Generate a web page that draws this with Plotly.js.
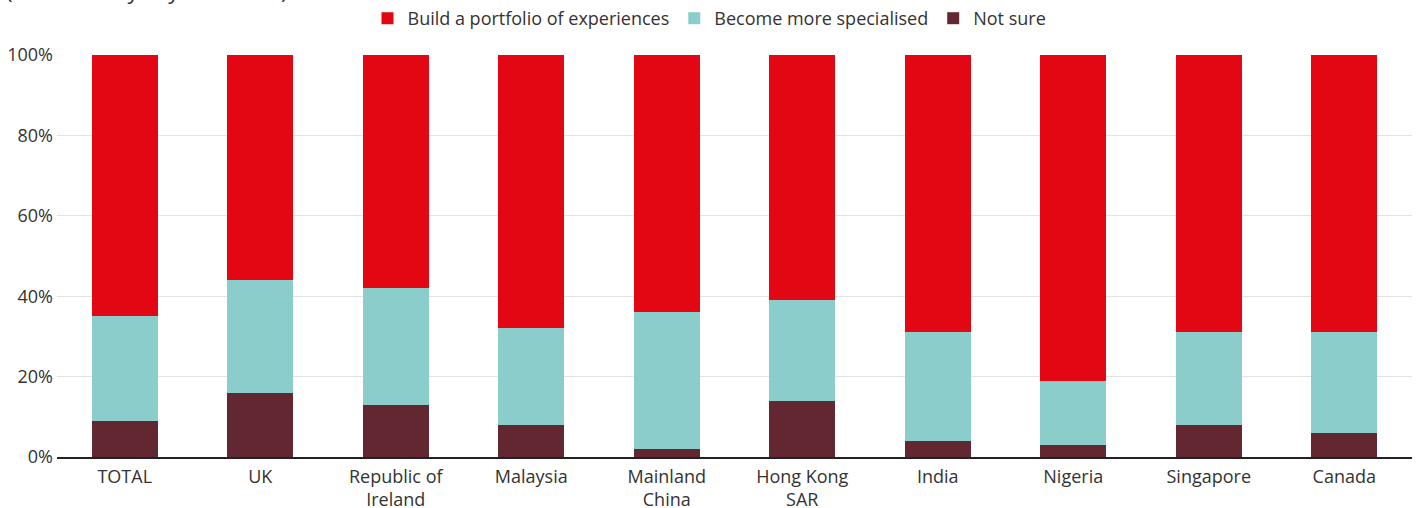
<!DOCTYPE html>
<html>
<head>
<meta charset="utf-8">
<script src="https://cdn.plot.ly/plotly-3.0.1.min.js"></script>
<style>html,body{margin:0;padding:0;background:#fff;}#chart{width:1419px;height:508px;}</style>
</head>
<body>
<div id="chart"></div>
<script>
const categories = ["TOTAL", "UK", "Republic of<br>Ireland", "Malaysia", "Mainland<br>China", "Hong Kong<br>SAR", "India", "Nigeria", "Singapore", "Canada"];
const notSure = [9, 16, 13, 8, 2, 14, 4, 3, 8, 6];
const specialised = [26, 28, 29, 24, 34, 25, 27, 16, 23, 25];
const portfolio = [65, 56, 58, 68, 64, 61, 69, 81, 69, 69];
const tickVals = [0, 20, 40, 60, 80, 100];
const tickText = ["0%", "20%", "40%", "60%", "80%", "100%"];
const subtitle = "(Total and by key countries)";

const fontFam = "'Open Sans', Lato, sans-serif";
const traces = [
  {type: "bar", name: "Not sure", x: categories, y: notSure, marker: {color: "#632731"}},
  {type: "bar", name: "Become more specialised", x: categories, y: specialised, marker: {color: "#8BCDCA"}},
  {type: "bar", name: "Build a portfolio of experiences", x: categories, y: portfolio, marker: {color: "#E30613"}}
];
const layout = {
  width: 1419, height: 508,
  barmode: "stack",
  bargap: 0.51,
  margin: {l: 57, r: 7, t: 55, b: 51},
  paper_bgcolor: "#fff", plot_bgcolor: "#fff",
  font: {family: fontFam, size: 18, color: "#333"},
  annotations: [{text: subtitle, xref: "paper", yref: "paper", x: 0, xshift: -53, xanchor: "left",
                 y: 1, yanchor: "middle", yshift: 65, showarrow: false, font: {size: 22, color: "#333"}}],
  showlegend: true,
  legend: {orientation: "h", traceorder: "reversed", x: 0.5, xref: "container", xanchor: "center",
           y: 1, yref: "container", yanchor: "top", font: {size: 18, color: "#333"}},
  xaxis: {showgrid: false, showline: true, linecolor: "#222", linewidth: 2, ticks: "", ticklabelstandoff: 2,
          tickfont: {size: 18, color: "#333"}, fixedrange: true},
  yaxis: {range: [0, 100], tickvals: tickVals, ticktext: tickText, showgrid: true, gridcolor: "#e3e3e3", gridwidth: 1,
          zeroline: false, ticks: "", ticklabelstandoff: 3, tickfont: {size: 18, color: "#333"}, fixedrange: true}
};
Plotly.newPlot("chart", traces, layout, {displayModeBar: false, staticPlot: true});
</script>
</body>
</html>
